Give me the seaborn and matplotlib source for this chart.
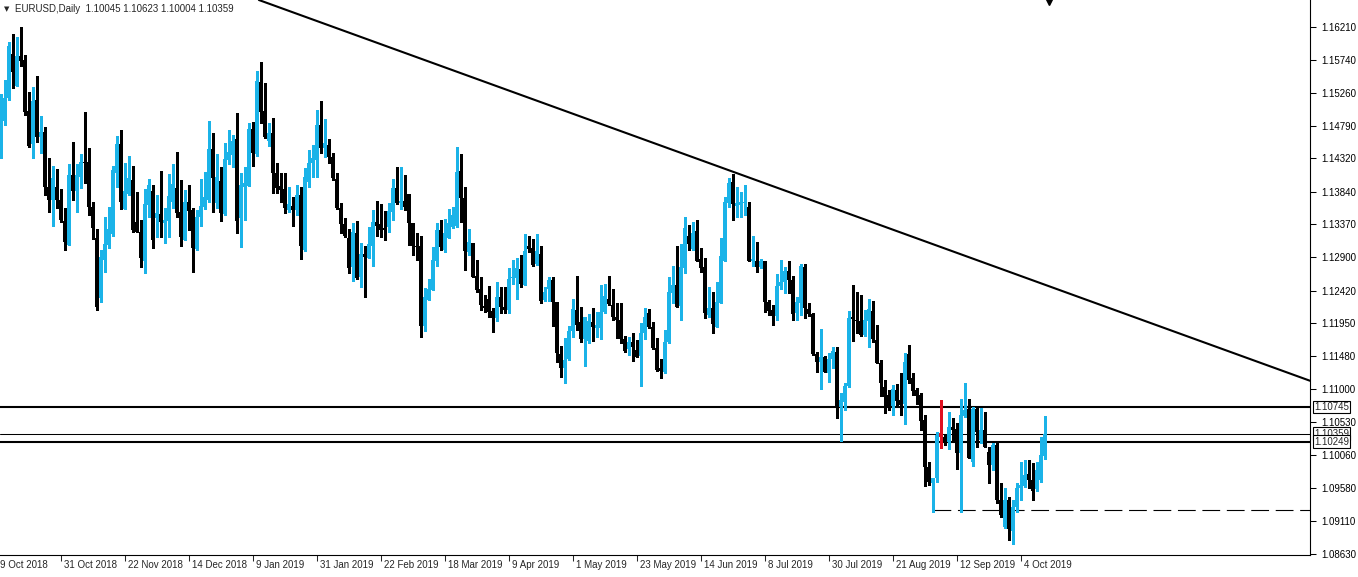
import numpy as np
import pandas as pd
import matplotlib
matplotlib.use("Agg")
import matplotlib.pyplot as plt
import seaborn as sns

# daily EURUSD bars, oldest first
opens = [
    1.1477, 1.1486, 1.1519, 1.1582, 1.1536, 1.1579, 1.1574, 1.1500, 1.1453, 1.1516,
    1.1463, 1.1470, 1.1391, 1.1372, 1.1391, 1.1372, 1.1342, 1.1308, 1.1408, 1.1385,
    1.1405, 1.1427, 1.1427, 1.1362, 1.1318, 1.1231, 1.1286, 1.1308, 1.1323, 1.1411,
    1.1453, 1.1359, 1.1381, 1.1401, 1.1341, 1.1326, 1.1285, 1.1365, 1.1385, 1.1346,
    1.1352, 1.1339, 1.1342, 1.1369, 1.1389, 1.1355, 1.1315, 1.1369, 1.1358, 1.1302,
    1.1348, 1.1362, 1.1372, 1.1446, 1.1368, 1.1400, 1.1352, 1.1430, 1.1437, 1.1460,
    1.1346, 1.1391, 1.1392, 1.1474, 1.1438, 1.1542, 1.1500, 1.1457, 1.1468, 1.1411,
    1.1392, 1.1388, 1.1358, 1.1364, 1.1358, 1.1379, 1.1300, 1.1398, 1.1425, 1.1430,
    1.1480, 1.1447, 1.1451, 1.1434, 1.1402, 1.1361, 1.1338, 1.1318, 1.1276, 1.1325,
    1.1262, 1.1295, 1.1289, 1.1306, 1.1340, 1.1337, 1.1332, 1.1333, 1.1355, 1.1389,
    1.1368, 1.1371, 1.1381, 1.1339, 1.1306, 1.1306, 1.1191, 1.1228, 1.1243, 1.1285,
    1.1329, 1.1300, 1.1318, 1.1333, 1.1335, 1.1414, 1.1375, 1.1297, 1.1311, 1.1263,
    1.1244, 1.1220, 1.1230, 1.1213, 1.1202, 1.1233, 1.1218, 1.1214, 1.1260, 1.1260,
    1.1273, 1.1250, 1.1306, 1.1303, 1.1280, 1.1295, 1.1228, 1.1244, 1.1257, 1.1226,
    1.1151, 1.1130, 1.1143, 1.1184, 1.1214, 1.1197, 1.1172, 1.1170, 1.1197, 1.1188,
    1.1188, 1.1211, 1.1230, 1.1221, 1.1204, 1.1200, 1.1172, 1.1158, 1.1168, 1.1157,
    1.1148, 1.1181, 1.1210, 1.1190, 1.1159, 1.1131, 1.1125, 1.1168, 1.1238, 1.1250,
    1.1220, 1.1274, 1.1320, 1.1302, 1.1327, 1.1288, 1.1276, 1.1207, 1.1217, 1.1190,
    1.1224, 1.1284, 1.1368, 1.1398, 1.1364, 1.1365, 1.1368, 1.1362, 1.1284, 1.1285,
    1.1276, 1.1284, 1.1226, 1.1214, 1.1206, 1.1249, 1.1254, 1.1270, 1.1257, 1.1210,
    1.1224, 1.1276, 1.1215, 1.1208, 1.1151, 1.1139, 1.1147, 1.1123, 1.1144, 1.1153,
    1.1075, 1.1082, 1.1105, 1.1204, 1.1200, 1.1198, 1.1178, 1.1198, 1.1213, 1.1171,
    1.1138, 1.1103, 1.1092, 1.1076, 1.1099, 1.1085, 1.1079, 1.1151, 1.1116, 1.1099,
    1.1092, 1.1056, 1.0988, 1.0965, 1.0972, 1.1031, 1.1032, 1.1024, 1.1046, 1.1043,
    1.1008, 1.1062, 1.1071, 1.0995, 1.1071, 1.1027, 1.1041, 1.1010, 1.0991, 1.1020,
    1.0941, 1.0902, 1.0941, 1.0896, 1.0931, 1.0958, 1.0961, 1.0978, 1.0969, 1.0956,
    1.0969, 1.10045,
]
highs = [
    1.1525, 1.1545, 1.1599, 1.1611, 1.1607, 1.1621, 1.1581, 1.1528, 1.1535, 1.1551,
    1.1493, 1.1477, 1.1433, 1.1421, 1.1417, 1.1388, 1.1361, 1.1424, 1.1456, 1.1424,
    1.1438, 1.1499, 1.1447, 1.1369, 1.1330, 1.1300, 1.1348, 1.1362, 1.1421, 1.1464,
    1.1473, 1.1425, 1.1435, 1.1421, 1.1384, 1.1343, 1.1388, 1.1402, 1.1394, 1.1379,
    1.1414, 1.1361, 1.1410, 1.1424, 1.1441, 1.1401, 1.1387, 1.1394, 1.1361, 1.1358,
    1.1402, 1.1413, 1.1486, 1.1469, 1.1438, 1.1420, 1.1454, 1.1473, 1.1466, 1.1497,
    1.1411, 1.1420, 1.1483, 1.1484, 1.1558, 1.1571, 1.1540, 1.1483, 1.1490, 1.1425,
    1.1411, 1.1411, 1.1391, 1.1377, 1.1394, 1.1391, 1.1418, 1.1444, 1.1451, 1.1502,
    1.1515, 1.1489, 1.1460, 1.1440, 1.1411, 1.1368, 1.1346, 1.1330, 1.1339, 1.1342,
    1.1310, 1.1306, 1.1333, 1.1358, 1.1371, 1.1366, 1.1356, 1.1368, 1.1402, 1.1420,
    1.1420, 1.1408, 1.1381, 1.1339, 1.1325, 1.1320, 1.1246, 1.1258, 1.1305, 1.1339,
    1.1343, 1.1345, 1.1359, 1.1362, 1.1448, 1.1438, 1.1391, 1.1331, 1.1311, 1.1286,
    1.1262, 1.1236, 1.1249, 1.1217, 1.1254, 1.1247, 1.1247, 1.1274, 1.1286, 1.1289,
    1.1293, 1.1323, 1.1320, 1.1316, 1.1323, 1.1306, 1.1247, 1.1262, 1.1262, 1.1226,
    1.1162, 1.1174, 1.1191, 1.1230, 1.1263, 1.1218, 1.1204, 1.1208, 1.1217, 1.1211,
    1.1250, 1.1251, 1.1263, 1.1244, 1.1224, 1.1224, 1.1177, 1.1175, 1.1181, 1.1171,
    1.1195, 1.1217, 1.1215, 1.1197, 1.1174, 1.1144, 1.1185, 1.1262, 1.1277, 1.1306,
    1.1309, 1.1348, 1.1336, 1.1341, 1.1343, 1.1303, 1.1289, 1.1247, 1.1240, 1.1254,
    1.1318, 1.1377, 1.1404, 1.1410, 1.1391, 1.1384, 1.1394, 1.1369, 1.1320, 1.1312,
    1.1288, 1.1285, 1.1228, 1.1221, 1.1266, 1.1286, 1.1276, 1.1284, 1.1263, 1.1233,
    1.1280, 1.1280, 1.1224, 1.1210, 1.1153, 1.1187, 1.1148, 1.1152, 1.1161, 1.1161,
    1.1095, 1.1109, 1.1213, 1.1250, 1.1240, 1.1236, 1.1214, 1.1230, 1.1227, 1.1193,
    1.1142, 1.1113, 1.1099, 1.1106, 1.1107, 1.1123, 1.1152, 1.1164, 1.1123, 1.1102,
    1.1095, 1.1063, 1.0995, 1.0973, 1.1039, 1.1085, 1.1034, 1.1068, 1.1059, 1.1052,
    1.1086, 1.1109, 1.1086, 1.1074, 1.1073, 1.1073, 1.1068, 1.1017, 1.1023, 1.1024,
    1.0965, 1.0958, 1.0945, 1.0941, 1.0965, 1.0996, 1.0998, 1.0999, 1.0994, 1.0996,
    1.1031, 1.10623,
]
lows = [
    1.1433, 1.1480, 1.1516, 1.1533, 1.1536, 1.1565, 1.1494, 1.1448, 1.1433, 1.1456,
    1.1440, 1.1379, 1.1355, 1.1335, 1.1361, 1.1341, 1.1300, 1.1308, 1.1372, 1.1355,
    1.1389, 1.1397, 1.1351, 1.1316, 1.1214, 1.1226, 1.1269, 1.1303, 1.1320, 1.1391,
    1.1359, 1.1359, 1.1379, 1.1326, 1.1326, 1.1276, 1.1267, 1.1348, 1.1303, 1.1319,
    1.1319, 1.1310, 1.1319, 1.1361, 1.1348, 1.1306, 1.1314, 1.1329, 1.1269, 1.1300,
    1.1335, 1.1359, 1.1369, 1.1355, 1.1361, 1.1342, 1.1351, 1.1424, 1.1420, 1.1325,
    1.1305, 1.1343, 1.1392, 1.1421, 1.1436, 1.1483, 1.1461, 1.1450, 1.1382, 1.1382,
    1.1369, 1.1353, 1.1355, 1.1335, 1.1351, 1.1287, 1.1299, 1.1391, 1.1405, 1.1405,
    1.1440, 1.1434, 1.1425, 1.1401, 1.1359, 1.1325, 1.1319, 1.1267, 1.1256, 1.1259,
    1.1247, 1.1233, 1.1289, 1.1277, 1.1320, 1.1319, 1.1315, 1.1326, 1.1343, 1.1366,
    1.1359, 1.1358, 1.1308, 1.1293, 1.1286, 1.1175, 1.1184, 1.1228, 1.1243, 1.1277,
    1.1300, 1.1297, 1.1318, 1.1332, 1.1333, 1.1341, 1.1272, 1.1293, 1.1261, 1.1240,
    1.1214, 1.1211, 1.1204, 1.1182, 1.1198, 1.1210, 1.1210, 1.1210, 1.1251, 1.1230,
    1.1247, 1.1250, 1.1297, 1.1277, 1.1279, 1.1224, 1.1227, 1.1227, 1.1191, 1.1139,
    1.1118, 1.1109, 1.1142, 1.1175, 1.1185, 1.1168, 1.1134, 1.1166, 1.1170, 1.1175,
    1.1172, 1.1210, 1.1221, 1.1200, 1.1174, 1.1166, 1.1153, 1.1150, 1.1141, 1.1147,
    1.1105, 1.1172, 1.1188, 1.1158, 1.1127, 1.1116, 1.1123, 1.1167, 1.1224, 1.1218,
    1.1200, 1.1267, 1.1300, 1.1300, 1.1284, 1.1269, 1.1202, 1.1204, 1.1181, 1.1190,
    1.1224, 1.1284, 1.1362, 1.1343, 1.1348, 1.1348, 1.1350, 1.1284, 1.1277, 1.1269,
    1.1274, 1.1211, 1.1207, 1.1193, 1.1200, 1.1244, 1.1238, 1.1238, 1.1200, 1.1200,
    1.1207, 1.1202, 1.1206, 1.1150, 1.1125, 1.1100, 1.1125, 1.1110, 1.1131, 1.1059,
    1.1026, 1.1070, 1.1104, 1.1170, 1.1181, 1.1177, 1.1177, 1.1161, 1.1168, 1.1138,
    1.1091, 1.1066, 1.1070, 1.1063, 1.1077, 1.1063, 1.1050, 1.1109, 1.1092, 1.1079,
    1.1042, 1.0961, 1.0962, 1.0924, 1.0967, 1.1015, 1.1020, 1.1014, 1.1027, 1.0985,
    1.0924, 1.1060, 1.1001, 1.0989, 1.1017, 1.1023, 1.1017, 1.0965, 1.0984, 1.0937,
    1.0916, 1.0901, 1.0883, 1.0877, 1.0924, 1.0941, 1.0959, 1.0958, 1.0941, 1.0954,
    1.0967, 1.10004,
]
closes = [
    1.1503, 1.1519, 1.1594, 1.1556, 1.1579, 1.1572, 1.1499, 1.1450, 1.1515, 1.1463,
    1.1470, 1.1391, 1.1372, 1.1404, 1.1372, 1.1343, 1.1312, 1.1408, 1.1385, 1.1408,
    1.1427, 1.1425, 1.1362, 1.1332, 1.1218, 1.1290, 1.1309, 1.1330, 1.1415, 1.1453,
    1.1369, 1.1385, 1.1404, 1.1329, 1.1326, 1.1289, 1.1366, 1.1394, 1.1315, 1.1354,
    1.1341, 1.1343, 1.1378, 1.1395, 1.1354, 1.1319, 1.1369, 1.1356, 1.1303, 1.1348,
    1.1364, 1.1377, 1.1446, 1.1404, 1.1405, 1.1354, 1.1431, 1.1441, 1.1457, 1.1342,
    1.1394, 1.1397, 1.1474, 1.1440, 1.1543, 1.1499, 1.1463, 1.1468, 1.1411, 1.1389,
    1.1387, 1.1361, 1.1366, 1.1358, 1.1379, 1.1306, 1.1405, 1.1425, 1.1433, 1.1480,
    1.1447, 1.1454, 1.1434, 1.1404, 1.1361, 1.1338, 1.1320, 1.1274, 1.1326, 1.1260,
    1.1295, 1.1290, 1.1309, 1.1341, 1.1335, 1.1329, 1.1329, 1.1356, 1.1389, 1.1368,
    1.1371, 1.1362, 1.1339, 1.1306, 1.1305, 1.1191, 1.1232, 1.1244, 1.1286, 1.1329,
    1.1304, 1.1325, 1.1339, 1.1351, 1.1413, 1.1375, 1.1299, 1.1312, 1.1262, 1.1243,
    1.1221, 1.1217, 1.1211, 1.1202, 1.1233, 1.1218, 1.1214, 1.1259, 1.1262, 1.1274,
    1.1251, 1.1299, 1.1302, 1.1279, 1.1299, 1.1227, 1.1240, 1.1257, 1.1226, 1.1152,
    1.1131, 1.1142, 1.1184, 1.1215, 1.1193, 1.1172, 1.1204, 1.1198, 1.1190, 1.1193,
    1.1211, 1.1234, 1.1223, 1.1204, 1.1200, 1.1172, 1.1155, 1.1168, 1.1161, 1.1147,
    1.1181, 1.1204, 1.1190, 1.1159, 1.1128, 1.1127, 1.1168, 1.1240, 1.1250, 1.1218,
    1.1276, 1.1332, 1.1309, 1.1325, 1.1285, 1.1274, 1.1210, 1.1217, 1.1194, 1.1226,
    1.1292, 1.1369, 1.1397, 1.1366, 1.1368, 1.1369, 1.1369, 1.1284, 1.1288, 1.1276,
    1.1285, 1.1226, 1.1213, 1.1206, 1.1249, 1.1254, 1.1270, 1.1257, 1.1208, 1.1226,
    1.1277, 1.1217, 1.1208, 1.1151, 1.1139, 1.1147, 1.1125, 1.1144, 1.1155, 1.1075,
    1.1085, 1.1105, 1.1202, 1.1201, 1.1198, 1.1178, 1.1200, 1.1215, 1.1172, 1.1138,
    1.1109, 1.1089, 1.1076, 1.1100, 1.1083, 1.1077, 1.1139, 1.1113, 1.1098, 1.1091,
    1.1055, 1.0988, 1.0967, 1.0972, 1.1034, 1.1037, 1.1024, 1.1046, 1.1041, 1.1008,
    1.1063, 1.1070, 1.1001, 1.1071, 1.1039, 1.1041, 1.1017, 1.0991, 1.1020, 1.0941,
    1.0919, 1.0941, 1.0899, 1.0931, 1.0958, 1.0962, 1.0977, 1.0969, 1.0954, 1.0984,
    1.1005, 1.10359,
]
marked_bars = [235]

price_ticks = [1.16210, 1.15740, 1.15260, 1.14790, 1.14320, 1.13840, 1.13370, 1.12900,
               1.12420, 1.11950, 1.11480, 1.11000, 1.10530, 1.10060, 1.09580, 1.09110,
               1.08630]
date_labels = ["9 Oct 2018", "31 Oct 2018", "22 Nov 2018", "14 Dec 2018", "9 Jan 2019",
               "31 Jan 2019", "22 Feb 2019", "18 Mar 2019", "9 Apr 2019", "1 May 2019",
               "23 May 2019", "14 Jun 2019", "8 Jul 2019", "30 Jul 2019", "21 Aug 2019",
               "12 Sep 2019", "4 Oct 2019"]
header = "EURUSD,Daily  1.10045 1.10623 1.10004 1.10359"

resistance_levels = [1.10745, 1.10249]
bid_level = 1.10359
support_level = 1.0926
support_from_bar = 233
trend_x = [64.5, 327.5]
trend_y = [1.1660, 1.1112]
arrow_bar = 262

sns.set_style("white")
plt.rcParams['font.family'] = ['Liberation Sans', 'DejaVu Sans']

df = pd.DataFrame({"open": opens, "high": highs, "low": lows, "close": closes})
df["bar"] = np.arange(len(df))
bull = "#1bb3e8"
df["color"] = np.where(df["close"] > df["open"], bull, "black")
df.loc[marked_bars, "color"] = "#e01020"
px = 0.0001438  # one screen pixel in price
df["body_lo"] = df[["open", "close"]].min(axis=1)
df["body_h"] = (df["close"] - df["open"]).abs().clip(lower=px)

fig = plt.figure(figsize=(13.58, 5.77), dpi=100)
ax = fig.add_axes([0, 22 / 577, 1310 / 1358, 555 / 577])
ymax = 1.16598
ax.set_ylim(ymax - 555 * px, ymax)
ax.set_xlim(-0.125, 327.375)

ax.vlines(df["bar"], df["low"], df["high"], colors=df["color"], lw=0.75,
          antialiased=False, zorder=3)
ax.bar(df["bar"], df["body_h"], bottom=df["body_lo"], width=0.75, color=df["color"],
       linewidth=0, antialiased=False, zorder=4)

# levels and trend line
for lv in resistance_levels:
    ax.axhline(lv, color="black", lw=1.5, zorder=2)
ax.axhline(bid_level, color="black", lw=0.75, zorder=2)
ax.hlines(support_level, support_from_bar, 327.375, color="black", lw=0.8,
          linestyles=(0, (16, 6)), zorder=2)
ax.axline((trend_x[0], trend_y[0]), (trend_x[1], trend_y[1]), color="black", lw=1.5,
          zorder=2)
ax.plot(arrow_bar, ymax + px, marker="v", color="black", ms=8, clip_on=True, zorder=5)

# axes in terminal style
sns.despine(ax=ax, top=True, left=True, right=False, bottom=False)
for side in ["right", "bottom"]:
    ax.spines[side].set_color("black")
    ax.spines[side].set_linewidth(0.8)
ax.yaxis.tick_right()
ax.set_yticks(price_ticks)
ax.set_yticklabels([f"{v:.5f}" for v in price_ticks])
ax.tick_params(axis="y", direction="out", length=4, width=0.75, pad=4, labelsize=7,
               colors="black", right=True)

tick_pos = [-1 + 16 * k for k in range(len(date_labels))]
ax.set_xticks([p for p in tick_pos if p >= 0])
ax.set_xticklabels([])
ax.tick_params(axis="x", direction="out", length=4, width=0.75, bottom=True)
for p, lab in zip(tick_pos, date_labels):
    ax.annotate(lab, xy=(p, 0), xycoords=("data", "axes fraction"), xytext=(3, -5),
                textcoords="offset pixels", ha="left", va="top", fontsize=7,
                annotation_clip=False)

# boxed price labels on the right scale
for lv in [1.10745, bid_level, 1.10249]:
    ax.annotate(f"{lv:.5f}", xy=(1, lv), xycoords=("axes fraction", "data"),
                xytext=(4, 0), textcoords="offset pixels", ha="left", va="center",
                fontsize=7, annotation_clip=False,
                bbox=dict(boxstyle="square,pad=0.15", fc="white", ec="black", lw=0.8))

fig.text(4 / 1358, 1 - 9 / 577, "\u25bc", fontsize=5, va="center", ha="left",
         family=["DejaVu Sans"])
fig.text(15 / 1358, 1 - 9 / 577, header, fontsize=7, va="center", ha="left")

fig.savefig("out.png", dpi=100, facecolor="white")
